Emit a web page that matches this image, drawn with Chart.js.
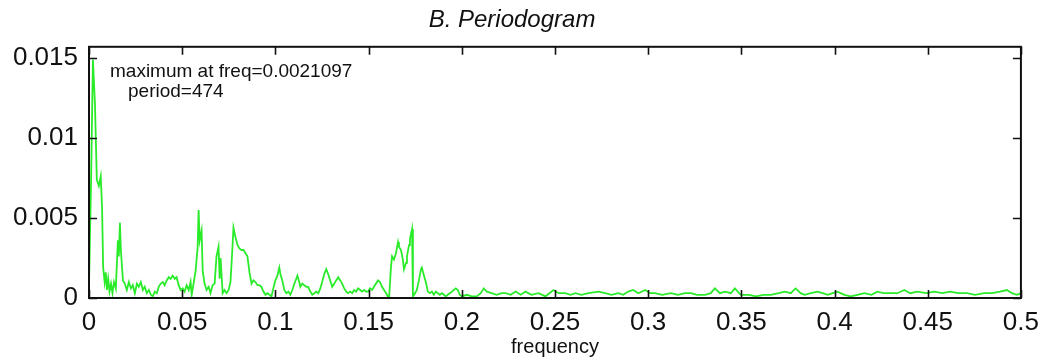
<!DOCTYPE html>
<html>
<head>
<meta charset="utf-8">
<script src="https://cdn.jsdelivr.net/npm/chart.js@4.4.1/dist/chart.umd.min.js"></script>
<style>
html,body{margin:0;padding:0;background:#fff;}
#wrap{width:1048px;height:360px;}
</style>
</head>
<body>
<div id="wrap"><canvas id="c" width="1048" height="360"></canvas></div>
<script>
const freq = [
0.0000,0.0011,0.0021,0.0032,0.0042,0.0053,0.0063,0.0070,0.0076,0.0084,
0.0090,0.0096,0.0103,0.0110,0.0118,0.0126,0.0134,0.0144,0.0155,0.0160,
0.0166,0.0171,0.0182,0.0192,0.0203,0.0214,0.0225,0.0235,0.0246,0.0257,
0.0267,0.0278,0.0289,0.0299,0.0310,0.0321,0.0332,0.0342,0.0353,0.0364,
0.0374,0.0385,0.0396,0.0406,0.0417,0.0428,0.0438,0.0449,0.0460,0.0470,
0.0481,0.0492,0.0503,0.0513,0.0524,0.0535,0.0545,0.0551,0.0561,0.0572,
0.0583,0.0588,0.0594,0.0604,0.0610,0.0620,0.0631,0.0642,0.0652,0.0663,
0.0674,0.0684,0.0695,0.0701,0.0706,0.0717,0.0727,0.0738,0.0749,0.0759,
0.0770,0.0775,0.0786,0.0797,0.0807,0.0818,0.0829,0.0840,0.0850,0.0861,
0.0872,0.0882,0.0893,0.0904,0.0914,0.0925,0.0936,0.0947,0.0957,0.0968,
0.0979,0.0989,0.1000,0.1011,0.1021,0.1027,0.1037,0.1048,0.1059,0.1070,
0.1080,0.1091,0.1102,0.1112,0.1118,0.1128,0.1134,0.1144,0.1155,0.1166,
0.1176,0.1187,0.1198,0.1209,0.1219,0.1230,0.1241,0.1251,0.1262,0.1273,
0.1283,0.1294,0.1305,0.1316,0.1326,0.1337,0.1348,0.1358,0.1369,0.1380,
0.1390,0.1401,0.1412,0.1422,0.1433,0.1444,0.1455,0.1465,0.1476,0.1487,
0.1497,0.1508,0.1519,0.1529,0.1540,0.1551,0.1561,0.1572,0.1583,0.1594,
0.1604,0.1610,0.1620,0.1626,0.1636,0.1647,0.1658,0.1663,0.1674,0.1684,
0.1690,0.1701,0.1706,0.1717,0.1722,0.1733,0.1738,0.1749,0.1759,0.1770,
0.1781,0.1786,0.1797,0.1807,0.1818,0.1829,0.1840,0.1850,0.1861,0.1872,
0.1882,0.1893,0.1904,0.1914,0.1925,0.1936,0.1947,0.1957,0.1968,0.1979,
0.1989,0.2000,0.2027,0.2054,0.2080,0.2102,0.2118,0.2135,0.2160,0.2187,
0.2214,0.2235,0.2262,0.2289,0.2316,0.2342,0.2374,0.2412,0.2449,0.2470,
0.2492,0.2519,0.2556,0.2583,0.2610,0.2642,0.2680,0.2733,0.2770,0.2802,
0.2840,0.2866,0.2893,0.2920,0.2947,0.2984,0.3011,0.3037,0.3075,0.3123,
0.3160,0.3198,0.3230,0.3262,0.3305,0.3336,0.3358,0.3385,0.3412,0.3444,
0.3465,0.3497,0.3540,0.3578,0.3620,0.3658,0.3700,0.3733,0.3765,0.3791,
0.3818,0.3840,0.3872,0.3909,0.3936,0.3963,0.3990,0.4016,0.4053,0.4086,
0.4123,0.4160,0.4198,0.4230,0.4262,0.4299,0.4337,0.4374,0.4406,0.4444,
0.4492,0.4535,0.4578,0.4620,0.4663,0.4711,0.4754,0.4802,0.4845,0.4888,
0.4925,0.4952,0.4979,0.5000
];
const power = [
0.0008,0.0072,0.0149,0.0121,0.0074,0.0070,0.0076,0.0057,0.0019,0.0010,
0.0016,0.0005,0.0012,0.0004,0.0009,0.0003,0.0010,0.0006,0.0036,0.0026,
0.0047,0.0030,0.0011,0.0009,0.0005,0.0010,0.0006,0.0008,0.0003,0.0009,
0.0007,0.0010,0.0005,0.0007,0.0003,0.0005,0.0002,0.0001,0.0004,0.0003,
0.0007,0.0009,0.0010,0.0008,0.0011,0.0013,0.0012,0.0014,0.0012,0.0013,
0.0008,0.0005,0.0006,0.0004,0.0008,0.0005,0.0010,0.0002,0.0009,0.0017,
0.0032,0.0055,0.0036,0.0042,0.0017,0.0009,0.0005,0.0007,0.0003,0.0008,
0.0009,0.0026,0.0032,0.0012,0.0025,0.0003,0.0005,0.0003,0.0005,0.0010,
0.0032,0.0044,0.0038,0.0033,0.0031,0.0030,0.0030,0.0028,0.0026,0.0016,
0.0009,0.0011,0.0010,0.0008,0.0008,0.0007,0.0004,0.0002,0.0003,0.0002,
0.0001,0.0006,0.0011,0.0014,0.0019,0.0015,0.0011,0.0005,0.0003,0.0004,
0.0002,0.0005,0.0009,0.0012,0.0014,0.0010,0.0007,0.0009,0.0008,0.0007,
0.0007,0.0004,0.0002,0.0003,0.0004,0.0003,0.0006,0.0010,0.0015,0.0018,
0.0015,0.0011,0.0007,0.0009,0.0011,0.0013,0.0011,0.0009,0.0006,0.0004,
0.0003,0.0004,0.0003,0.0005,0.0004,0.0006,0.0005,0.0004,0.0005,0.0004,
0.0004,0.0006,0.0005,0.0007,0.0009,0.0011,0.0010,0.0007,0.0005,0.0003,
0.0001,0.0000,0.0019,0.0026,0.0024,0.0028,0.0035,0.0032,0.0030,0.0024,
0.0018,0.0022,0.0026,0.0033,0.0037,0.0043,0.0001,0.0003,0.0005,0.0011,
0.0018,0.0019,0.0014,0.0010,0.0004,0.0003,0.0004,0.0002,0.0004,0.0003,
0.0002,0.0003,0.0002,0.0001,0.0002,0.0003,0.0004,0.0005,0.0006,0.0005,
0.0002,0.0001,0.0002,0.0001,0.0001,0.0003,0.0006,0.0004,0.0003,0.0002,
0.0003,0.0003,0.0002,0.0004,0.0002,0.0004,0.0002,0.0003,0.0001,0.0003,
0.0005,0.0003,0.0003,0.0002,0.0003,0.0002,0.0003,0.0004,0.0003,0.0002,
0.0003,0.0002,0.0004,0.0005,0.0003,0.0005,0.0003,0.0003,0.0002,0.0003,
0.0002,0.0003,0.0003,0.0002,0.0002,0.0003,0.0006,0.0003,0.0004,0.0003,
0.0006,0.0002,0.0002,0.0001,0.0002,0.0002,0.0003,0.0004,0.0003,0.0006,
0.0003,0.0002,0.0003,0.0004,0.0003,0.0002,0.0003,0.0004,0.0002,0.0001,
0.0002,0.0003,0.0002,0.0004,0.0003,0.0003,0.0003,0.0005,0.0003,0.0004,
0.0003,0.0004,0.0003,0.0004,0.0003,0.0003,0.0002,0.0003,0.0003,0.0004,
0.0005,0.0003,0.0002,0.0003
];
const xTicks = [0,0.05,0.1,0.15,0.2,0.25,0.3,0.35,0.4,0.45,0.5];
const xTickLabels = ['0','0.05','0.1','0.15','0.2','0.25','0.3','0.35','0.4','0.45','0.5'];
const yTicks = [0,0.005,0.01,0.015];
const yTickLabels = ['0','0.005','0.01','0.015'];
const titleText = 'B. Periodogram';
const xTitle = 'frequency';
const noteLines = ['maximum at freq=0.0021097', 'period=474'];

const FONT = "'Liberation Sans', Arial, Helvetica, sans-serif";

const frame = {
  id: 'frame',
  afterDatasetsDraw(chart) {
    const {ctx, chartArea: a, scales: {x, y}} = chart;
    ctx.save();
    ctx.strokeStyle = '#111';
    ctx.lineWidth = 2;
    ctx.strokeRect(a.left, a.top, a.right - a.left, a.bottom - a.top);
    ctx.lineWidth = 1.6;
    const L = 8;
    ctx.beginPath();
    x.ticks.forEach(t => {
      const px = Math.round(x.getPixelForValue(t.value)) + 0.5;
      ctx.moveTo(px, a.bottom); ctx.lineTo(px, a.bottom - L);
      ctx.moveTo(px, a.top); ctx.lineTo(px, a.top + L);
    });
    y.ticks.forEach(t => {
      const py = Math.round(y.getPixelForValue(t.value)) + 0.5;
      ctx.moveTo(a.left, py); ctx.lineTo(a.left + L, py);
      ctx.moveTo(a.right, py); ctx.lineTo(a.right - L, py);
    });
    ctx.stroke();
    ctx.fillStyle = '#111';
    ctx.font = '19px ' + FONT;
    ctx.textBaseline = 'middle';
    ctx.textAlign = 'left';
    ctx.fillText(noteLines[0], a.left + 21, a.top + 25);
    ctx.fillText(noteLines[1], a.left + 39, a.top + 45);
    ctx.restore();
  }
};

new Chart(document.getElementById('c'), {
  type: 'line',
  data: {
    datasets: [{
      data: freq.map((f, i) => ({x: f, y: power[i]})),
      borderColor: '#2aeb2a',
      borderWidth: 1.8,
      pointRadius: 0,
      tension: 0,
      fill: false
    }]
  },
  options: {
    responsive: false,
    animation: false,
    devicePixelRatio: 1,
    layout: {padding: {left: 0, right: 24, top: 2, bottom: 0}},
    plugins: {
      legend: {display: false},
      tooltip: {enabled: false},
      title: {
        display: true,
        text: titleText,
        color: '#111',
        font: {family: FONT, size: 24, style: 'italic', weight: 'normal'},
        padding: {top: 4, bottom: 12}
      }
    },
    scales: {
      x: {
        type: 'linear',
        min: 0, max: 0.5,
        afterBuildTicks: s => { s.ticks = xTicks.map(v => ({value: v})); },
        afterFit: s => { s.height = 62; },
        grid: {display: false, drawTicks: false},
        border: {display: false},
        ticks: {
          padding: 9,
          color: '#111',
          font: {family: FONT, size: 26},
          maxRotation: 0,
          autoSkip: false,
          callback: (v, i) => xTickLabels[i]
        },
        title: {
          display: true,
          text: xTitle,
          color: '#111',
          font: {family: FONT, size: 20},
          padding: {top: 0, bottom: 1}
        }
      },
      y: {
        type: 'linear',
        min: 0, max: 0.0157,
        afterBuildTicks: s => { s.ticks = yTicks.map(v => ({value: v})); },
        afterFit: s => { s.width = 89; },
        grid: {display: false, drawTicks: false},
        border: {display: false},
        ticks: {
          padding: 11,
          color: '#111',
          font: {family: FONT, size: 26},
          autoSkip: false,
          callback: (v, i) => yTickLabels[i]
        }
      }
    }
  },
  plugins: [frame]
});
</script>
</body>
</html>
